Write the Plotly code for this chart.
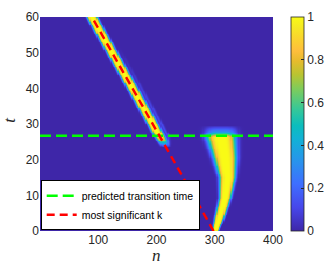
import numpy as np
import plotly.graph_objects as go

# ---- data ----
n_grid = np.arange(0, 401, 2.0)
t_grid = np.arange(0, 60.01, 0.25)

# upper ridge (after transition)
ridge1_t = [23.5, 25.5, 27.0, 40.0, 50.0, 60.0]
ridge1_center = [216, 210, 204, 159, 124, 89]
ridge1_width = [8, 9, 9, 9, 9, 9]
ridge1_amp = [0.0, 0.75, 1.0, 1.0, 1.0, 1.0]

# faint ghost ridge next to upper ridge
ghost_t = [24.0, 27.0, 40.0, 52.0]
ghost_center = [224, 219, 174, 133]
ghost_amp = [0.0, 0.12, 0.08, 0.0]

# lower ridge (before transition)
ridge2_t = [0, 3.6, 9.3, 15, 20.5, 26.3, 27.5, 29.5]
ridge2_center = [301, 308, 318, 322, 318, 311, 311, 311]
ridge2_width = [5, 8, 10, 14, 20, 25, 26, 27]
ridge2_amp = [1.0, 1.0, 1.0, 1.0, 1.0, 1.0, 0.4, 0.0]

# overlay lines
transition_t = 26.7
transition_n = [0, 400]
mostsig_t = [0, 60]
mostsig_n = [298, 89]

x_ticks = [100, 200, 300, 400]
y_ticks = [0, 10, 20, 30, 40, 50, 60]
cb_ticks = [0, 0.2, 0.4, 0.6, 0.8, 1]

# ---- build field ----
N, T = np.meshgrid(n_grid, t_grid)
tt = t_grid[:, None]


def prof(d, w):
    return np.exp(-np.abs(d / w) ** 4)


c1 = np.interp(tt, ridge1_t, ridge1_center)
w1 = np.interp(tt, ridge1_t, ridge1_width)
a1 = np.interp(tt, ridge1_t, ridge1_amp, left=0.0, right=1.0)
c2 = np.interp(tt, ridge2_t, ridge2_center)
w2 = np.interp(tt, ridge2_t, ridge2_width)
a2 = np.interp(tt, ridge2_t, ridge2_amp, left=1.0, right=0.0)
cg = np.interp(tt, ghost_t, ghost_center)
ag = np.interp(tt, ghost_t, ghost_amp, left=0.0, right=0.0)

Z = a1 * prof(N - c1, w1) + a2 * prof(N - c2, w2) + ag * np.exp(-((N - cg) / 3.0) ** 2)
Z = np.clip(Z, 0, 1).round(3)

parula = [
    [0.0, "rgb(62,38,168)"], [0.111, "rgb(71,71,235)"], [0.222, "rgb(62,111,255)"],
    [0.333, "rgb(39,150,235)"], [0.429, "rgb(18,177,214)"], [0.492, "rgb(11,189,189)"],
    [0.571, "rgb(55,200,151)"], [0.667, "rgb(129,204,89)"], [0.730, "rgb(185,196,49)"],
    [0.794, "rgb(230,187,45)"], [0.841, "rgb(254,190,60)"], [0.905, "rgb(249,214,45)"],
    [0.952, "rgb(245,233,36)"], [1.0, "rgb(249,251,21)"],
]

TXT = "#262626"

fig = go.Figure()
fig.add_trace(go.Heatmap(
    x=n_grid, y=t_grid, z=Z, zmin=0, zmax=1, colorscale=parula,
    showscale=True, showlegend=False, hoverinfo="skip",
    colorbar=dict(
        x=1.077, xanchor="left", y=0.5, yanchor="middle",
        thickness=13, thicknessmode="pixels", len=214, lenmode="pixels",
        tickvals=cb_ticks, ticktext=["0", "0.2", "0.4", "0.6", "0.8", "1"],
        ticks="inside", ticklen=3, tickcolor=TXT,
        outlinecolor=TXT, outlinewidth=0.8,
        tickfont=dict(family="Liberation Sans, Arial", size=12, color=TXT),
        xpad=0, ypad=0,
    ),
))
fig.add_trace(go.Scatter(
    x=transition_n, y=[transition_t, transition_t], mode="lines",
    line=dict(color="#00ff00", width=2.5, dash="11px,5px"),
    name="predicted transition time",
))
fig.add_trace(go.Scatter(
    x=mostsig_n, y=mostsig_t, mode="lines",
    line=dict(color="#ff0000", width=2.5, dash="8px,5px"),
    name="most significant k",
))

fig.update_layout(
    width=333, height=270,
    margin=dict(l=40, r=60, t=17, b=39, autoexpand=False),
    paper_bgcolor="white", plot_bgcolor="rgb(62,38,168)",
    font=dict(family="Liberation Sans, Arial", size=12, color=TXT),
    xaxis=dict(
        range=[0, 400], tickvals=x_ticks, showgrid=False, zeroline=False,
        ticks="", tickfont=dict(size=12, color=TXT), automargin=False,
    ),
    yaxis=dict(
        range=[0, 60], tickvals=y_ticks, showgrid=False, zeroline=False,
        ticks="", tickfont=dict(size=12, color=TXT), automargin=False,
    ),
    legend=dict(
        x=0.003, y=0.003, xanchor="left", yanchor="bottom",
        bgcolor="white", bordercolor="black", borderwidth=1,
        font=dict(family="Liberation Sans, Arial", size=10.5, color="black"),
        tracegroupgap=0, itemwidth=30,
    ),
    annotations=[
        dict(text="<i>n</i>", xref="paper", yref="paper", x=0.5, y=0,
             xanchor="center", yanchor="middle", yshift=-24, showarrow=False,
             font=dict(family="Liberation Serif, Times New Roman", size=17, color=TXT)),
        dict(text="<i>t</i>", xref="paper", yref="paper", x=0, y=0.52,
             xanchor="center", yanchor="middle", xshift=-30, textangle=-90,
             showarrow=False,
             font=dict(family="Liberation Serif, Times New Roman", size=17, color=TXT)),
    ],
)

fig.write_html("out.html", config={"displayModeBar": False},
               post_script="document.body.style.margin='0';")
